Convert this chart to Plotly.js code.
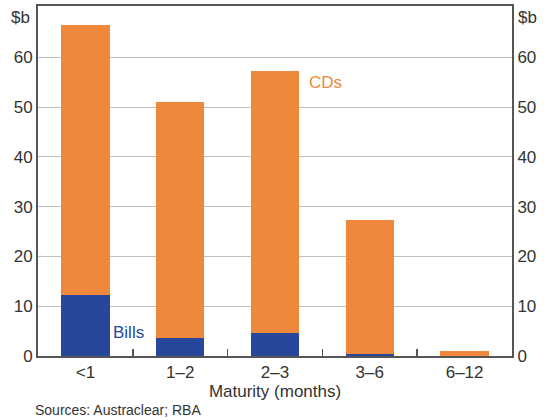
<!DOCTYPE html>
<html><head><meta charset="utf-8">
<script src="https://cdn.plot.ly/plotly-3.0.1.min.js"></script>
<style>html,body{margin:0;padding:0;background:#fff}#chart{width:546px;height:420px}</style>
</head><body><div id="chart"></div>
<script>
const categories = ['<1', '1–2', '2–3', '3–6', '6–12'];
const bills = [12.2, 3.7, 4.7, 0.5, 0];
const cds = [54.3, 47.4, 52.6, 26.8, 1.1];
const yTicks = [0, 10, 20, 30, 40, 50, 60];

const orange = '#F0883B';
const blue = '#27479B';
const axisCol = '#555555';
const font = 'Liberation Sans, Arial, sans-serif';

const data = [
  {type: 'bar', x: categories, y: bills, marker: {color: blue}, name: 'Bills', hoverinfo: 'skip'},
  {type: 'bar', x: categories, y: cds, marker: {color: orange}, name: 'CDs', hoverinfo: 'skip'},
  {type: 'scatter', x: [], y: [], yaxis: 'y2', showlegend: false}
];

const layout = {
  width: 546, height: 420,
  margin: {l: 38, r: 34, t: 6, b: 64},
  barmode: 'stack', bargap: 0.49,
  showlegend: false,
  paper_bgcolor: '#fff', plot_bgcolor: '#fff',
  font: {family: font, size: 17, color: '#333'},
  xaxis: {
    showline: true, linecolor: axisCol, linewidth: 2, mirror: true,
    ticks: 'inside', tickson: 'boundaries', ticklen: 7, tickcolor: axisCol, tickwidth: 1.5,
    showgrid: false, tickfont: {size: 17, color: '#333'},
    title: {text: 'Maturity (months)', font: {size: 17, color: '#333'}, standoff: 1}
  },
  yaxis: {
    range: [0, 70.3], tickvals: yTicks, showline: true, linecolor: axisCol, linewidth: 2,
    showgrid: true, gridcolor: '#c0c0c0', gridwidth: 1, ticks: '', zeroline: false,
    tickfont: {size: 17, color: '#333'}, fixedrange: true
  },
  yaxis2: {
    overlaying: 'y', side: 'right', range: [0, 70.3], tickvals: yTicks,
    showline: true, linecolor: axisCol, linewidth: 2, showgrid: false, ticks: '', zeroline: false,
    tickfont: {size: 17, color: '#333'}
  },
  annotations: [
    {xref: 'paper', yref: 'paper', x: -0.013, y: 1.0, xanchor: 'right', yanchor: 'top', text: '$b', showarrow: false, font: {size: 17, color: '#333'}},
    {xref: 'paper', yref: 'paper', x: 1.008, y: 1.0, xanchor: 'left', yanchor: 'top', text: '$b', showarrow: false, font: {size: 17, color: '#333'}},
    {xref: 'x', yref: 'y', x: 2.53, y: 55.0, xanchor: 'center', yanchor: 'middle', text: 'CDs', showarrow: false, font: {size: 17, color: orange}},
    {xref: 'x', yref: 'y', x: 0.45, y: 4.7, xanchor: 'center', yanchor: 'middle', text: 'Bills', showarrow: false, font: {size: 17, color: blue}},
    {xref: 'paper', yref: 'paper', x: -0.01, y: -0.155, xanchor: 'left', yanchor: 'middle', text: 'Sources: Austraclear; RBA', showarrow: false, font: {size: 14, color: '#333'}}
  ]
};

Plotly.newPlot('chart', data, layout, {staticPlot: true, displayModeBar: false});
</script></body></html>
